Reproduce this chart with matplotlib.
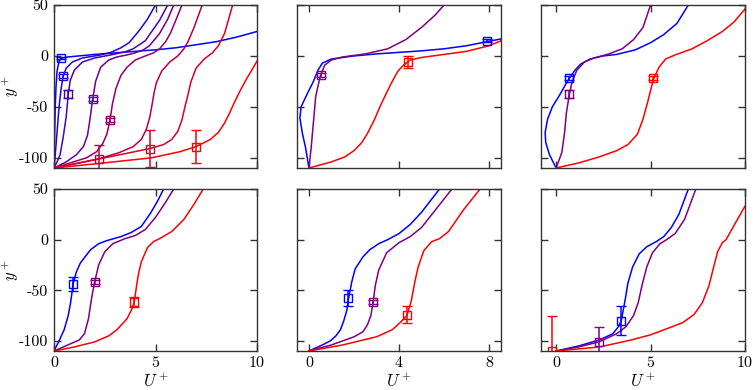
import matplotlib.pyplot as plt

plt.rcParams['font.family'] = 'serif'
plt.rcParams['font.serif'] = ['cmr10', 'DejaVu Serif']
plt.rcParams['mathtext.fontset'] = 'cm'
plt.rcParams['axes.unicode_minus'] = False

# ---- data: (U+, y+) points per profile ----
# panel a (top left), 8 profiles from blue to red
a0 = [(0, -110), (0.03, -80), (0.06, -50), (0.1, -30), (0.15, -15), (0.25, -5), (0.4, -2),
      (0.7, -1), (2, 1.5), (3, 3), (4, 4.5), (5, 6), (6, 8), (7, 11), (8, 14), (9, 18.5), (10, 24)]
a1 = [(0, -110), (0.05, -100), (0.15, -75), (0.25, -50), (0.35, -32), (0.45, -20), (0.6, -12),
      (0.9, -6), (1.4, -2), (2.3, 1), (2.8, 3.5), (3.3, 8), (3.7, 13), (4.2, 25), (4.6, 36), (5.0, 50)]
a2 = [(0, -110), (0.15, -104), (0.3, -97), (0.45, -80), (0.6, -60), (0.7, -38), (0.8, -24),
      (1.0, -14), (1.4, -6), (2.0, -2), (2.8, 1), (3.5, 4), (3.9, 7), (4.5, 15), (5.2, 35), (5.6, 50)]
a3 = [(0, -110), (0.6, -104), (1.1, -97), (1.45, -89), (1.65, -78), (1.75, -65), (1.82, -55),
      (1.9, -43), (2.05, -25), (2.3, -11), (2.7, -4), (3.1, -1), (3.6, 1), (4.0, 3), (4.4, 6),
      (4.7, 10), (5.2, 22), (5.6, 36), (5.9, 50)]
a4 = [(0, -110), (0.8, -105), (1.6, -100), (2.1, -94), (2.4, -86), (2.6, -77), (2.75, -64),
      (2.88, -47), (3.05, -32), (3.3, -19), (3.6, -11), (4.0, -4), (4.5, 0), (4.9, 3), (5.2, 7),
      (5.5, 14), (5.75, 23), (6.0, 35), (6.3, 50)]
a5 = [(0, -110), (1.0, -106), (2.2, -101), (3.2, -95), (3.9, -89), (4.3, -82), (4.55, -72),
      (4.72, -60), (4.83, -48), (4.93, -36), (5.05, -26), (5.3, -15), (5.7, -6), (6.1, 0),
      (6.4, 7), (6.6, 14), (6.9, 28), (7.3, 50)]
a6 = [(0, -110), (1.5, -104), (3.0, -98), (4.7, -91), (5.4, -87), (5.8, -82), (6.1, -74),
      (6.3, -63), (6.45, -50), (6.6, -38), (6.75, -25), (7.0, -12), (7.4, -3), (7.8, 3),
      (8.1, 10), (8.4, 22), (8.8, 50)]
a7 = [(0, -110), (2, -106), (4.8, -100), (6.2, -94), (7.0, -89), (7.7, -82), (8.1, -75),
      (8.4, -66), (8.65, -56), (8.9, -45), (9.2, -33), (9.5, -22), (9.8, -12), (10, -5)]
a_mark_u = [0.35, 0.45, 0.7, 1.9, 2.75, 2.2, 4.75, 7.0]
a_mark_y = [-2, -20, -37, -42, -63, -101, -91, -89]
a_mark_err = [1, 2, 4, 2, 2, 14, 18, 16]

# panel b (top middle)
b_blue = [(0, -110), (-0.15, -90), (-0.3, -75), (-0.4, -61), (-0.35, -50), (-0.05, -36), (0.2, -25),
          (0.4, -14), (0.6, -7), (1.0, -3), (2, 0), (3, 2), (4, 3.5), (5, 5), (6, 7), (7, 10),
          (7.9, 14), (8.6, 17)]
b_purple = [(0, -110), (0.1, -90), (0.2, -65), (0.3, -40), (0.5, -20), (0.7, -9), (1.0, -4),
            (1.5, -1), (2.5, 2), (3.5, 7), (4.3, 16), (5.0, 28), (5.6, 40), (6.0, 50)]
b_red = [(0, -110), (1.0, -104), (1.6, -99), (2.0, -93), (2.35, -85), (2.6, -76), (2.9, -63),
         (3.15, -50), (3.45, -36), (3.7, -25), (3.95, -15), (4.2, -9), (4.5, -4), (5, -1.5),
         (6, 1.5), (7, 4.5), (8, 10), (8.6, 15.5)]
b_mark_u = [7.9, 0.53, 4.4]
b_mark_y = [15, -19, -6]
b_mark_err = [1.5, 2, 6]

# panel c (top right)
c_blue = [(0, -110), (-0.35, -97), (-0.55, -85), (-0.58, -75), (-0.45, -62), (-0.2, -50),
          (0.2, -38), (0.5, -28), (0.7, -22), (1.0, -14), (1.3, -8), (1.8, -3), (2.5, 0),
          (3.2, 1.5), (4.2, 6), (5.0, 13), (5.7, 21), (6.4, 32), (7.0, 50)]
c_purple = [(0, -110), (0.3, -95), (0.45, -75), (0.55, -55), (0.7, -38), (0.85, -25), (1.1, -14),
            (1.5, -6), (2.0, -2), (2.8, 2), (3.5, 7), (4.1, 16), (4.6, 28), (5.0, 50)]
c_red = [(0, -110), (1.2, -105), (2.3, -99), (3.2, -93), (3.8, -87), (4.3, -77), (4.6, -62),
         (4.85, -45), (5.15, -23), (5.45, -11), (5.8, -3), (6.3, 1), (7.2, 7), (8, 15),
         (8.8, 24), (9.4, 33), (10, 46)]
c_mark_u = [0.7, 0.7, 5.15]
c_mark_y = [-22, -37, -22]
c_mark_err = [2, 4, 2]

# panel d (bottom left)
d_blue = [(0, -110), (0.25, -100), (0.5, -89), (0.7, -75), (0.82, -62), (0.95, -43), (1.1, -32),
          (1.3, -23), (1.8, -10), (2.2, -4), (2.6, -1), (3.3, 3), (3.8, 7), (4.3, 13), (4.75, 26),
          (5.1, 38), (5.4, 50)]
d_purple = [(0, -110), (0.8, -103), (1.25, -99), (1.5, -93), (1.7, -78), (1.85, -58), (2.0, -42),
            (2.2, -25), (2.5, -12), (2.9, -4), (3.5, 1), (4.0, 4), (4.5, 10), (5.0, 22), (5.5, 37), (5.9, 50)]
d_red = [(0, -110), (1, -106), (2, -101), (2.7, -95), (3.1, -89), (3.6, -78), (3.85, -68),
         (3.95, -62), (4.05, -48), (4.15, -35), (4.3, -22), (4.6, -8), (4.9, -2), (5.2, 1),
         (5.8, 8), (6.4, 20), (6.9, 35), (7.35, 50)]
d_mark_u = [0.95, 2.0, 3.95]
d_mark_y = [-44, -42, -62]
d_mark_err = [7, 2, 5]

# panel e (bottom middle)
e_blue = [(0, -110), (0.6, -104), (0.95, -100), (1.2, -95), (1.4, -89), (1.55, -80), (1.68, -70),
          (1.77, -57), (1.9, -42), (2.05, -29), (2.4, -17), (2.7, -10), (3.1, -4), (3.5, 0),
          (4.0, 6), (4.5, 15), (5.0, 27), (5.8, 50)]
e_purple = [(0, -110), (1.0, -104), (2.0, -96), (2.4, -91), (2.6, -84), (2.75, -75), (2.85, -62),
            (2.95, -45), (3.1, -30), (3.45, -13), (4.0, -3), (4.5, 3), (5.0, 12), (5.5, 26), (6.35, 50)]
e_red = [(0, -110), (1.5, -104), (3.0, -96), (3.7, -89), (4.05, -82), (4.35, -75), (4.55, -60),
         (4.7, -42), (4.85, -27), (5.1, -11), (5.45, -2), (5.8, 1), (6.2, 8), (6.85, 29), (7.6, 50)]
e_mark_u = [1.75, 2.85, 4.35]
e_mark_y = [-58, -62, -74]
e_mark_err = [8, 2, 8]

# panel f (bottom right)
f_blue = [(0, -110), (1.2, -105), (2.3, -99), (3.0, -93), (3.3, -86), (3.45, -80), (3.65, -60),
          (3.8, -43), (4.05, -27), (4.4, -14), (4.8, -7), (5.3, -2), (5.7, 3), (6.1, 12), (6.5, 25), (7.0, 50)]
f_purple = [(0, -110), (1.2, -106), (2.27, -101), (3.2, -93), (3.7, -86), (4.1, -75), (4.35, -62),
            (4.55, -45), (4.8, -27), (5.1, -13), (5.5, -4), (5.85, 0), (6.3, 6), (6.8, 20), (7.4, 50)]
f_red = [(0, -110), (2.3, -106), (4, -99), (5, -94), (6, -87), (6.7, -82), (7.3, -74), (7.75, -62),
         (8.1, -45), (8.3, -30), (8.55, -12), (8.8, -3), (9.0, 0), (9.3, 10), (9.6, 20), (10, 33)]
f_mark_u = [3.45, 2.27, -0.2]
f_mark_y = [-80, -101, -110]
f_mark_err = [14, 15, 35]

y_ticks = [-100, -50, 0, 50]
y_tick_labels = ['-100', '-50', '0', '50']

BLUE, PURPLE, RED = (0, 0, 1), (0.5, 0, 0.5), (1, 0, 0)
W, H = 753, 390


def axes_px(fig, x0, y0, x1, y1):
    return fig.add_axes([x0 / W, 1 - y1 / H, (x1 - x0) / W, (y1 - y0) / H])


def draw(ax, curves, colors, mu, my, merr, xlim, xticks, xlabels, ylabels):
    for pts, c in zip(curves, colors):
        ax.plot([p[0] for p in pts], [p[1] for p in pts], color=c, lw=1.1)
    for u, y, e, c in zip(mu, my, merr, colors):
        ax.errorbar(u, y, yerr=e, fmt='s', ms=5.5, mfc='none', mec=c, mew=1.0,
                    ecolor=c, elinewidth=1.1, capsize=3.5, capthick=1.1)
    ax.set_xlim(*xlim)
    ax.set_ylim(-110, 50)
    ax.set_xticks(xticks)
    ax.set_yticks(y_ticks)
    ax.set_xticklabels([str(t) for t in xticks] if xlabels else [])
    ax.set_yticklabels(y_tick_labels if ylabels else [])
    ax.tick_params(direction='in', top=True, right=True, length=5, width=1.0,
                   labelsize=11.5, color='#333333', pad=4)
    for s in ax.spines.values():
        s.set_color('#333333')
        s.set_linewidth(1.0)
    if xlabels:
        ax.set_xlabel('$U^+$', fontsize=12, labelpad=1)
    if ylabels:
        ax.set_ylabel('$y^+$', fontsize=12)
        ax.yaxis.set_label_coords(-0.162, 0.5)


fig = plt.figure(figsize=(W / 100, H / 100), dpi=100)
cols = [(54, 257), (297, 501), (541, 745)]
rows = [(5, 168), (189, 351)]

a_colors = [(i / 7, 0, 1 - i / 7) for i in range(8)]
three = [BLUE, PURPLE, RED]

ax = axes_px(fig, cols[0][0], rows[0][0], cols[0][1], rows[0][1])
draw(ax, [a0, a1, a2, a3, a4, a5, a6, a7], a_colors, a_mark_u, a_mark_y, a_mark_err,
     (0, 10), [0, 5, 10], False, True)
ax = axes_px(fig, cols[1][0], rows[0][0], cols[1][1], rows[0][1])
draw(ax, [b_blue, b_purple, b_red], three, b_mark_u, b_mark_y, b_mark_err,
     (-0.53, 8.53), [0, 4, 8], False, False)
ax = axes_px(fig, cols[2][0], rows[0][0], cols[2][1], rows[0][1])
draw(ax, [c_blue, c_purple, c_red], three, c_mark_u, c_mark_y, c_mark_err,
     (-0.8, 10), [0, 5, 10], False, False)
ax = axes_px(fig, cols[0][0], rows[1][0], cols[0][1], rows[1][1])
draw(ax, [d_blue, d_purple, d_red], three, d_mark_u, d_mark_y, d_mark_err,
     (0, 10), [0, 5, 10], True, True)
ax = axes_px(fig, cols[1][0], rows[1][0], cols[1][1], rows[1][1])
draw(ax, [e_blue, e_purple, e_red], three, e_mark_u, e_mark_y, e_mark_err,
     (-0.53, 8.53), [0, 4, 8], True, False)
ax = axes_px(fig, cols[2][0], rows[1][0], cols[2][1], rows[1][1])
draw(ax, [f_blue, f_purple, f_red], three, f_mark_u, f_mark_y, f_mark_err,
     (-0.8, 10), [0, 5, 10], True, False)

fig.savefig('out.png', dpi=100)
